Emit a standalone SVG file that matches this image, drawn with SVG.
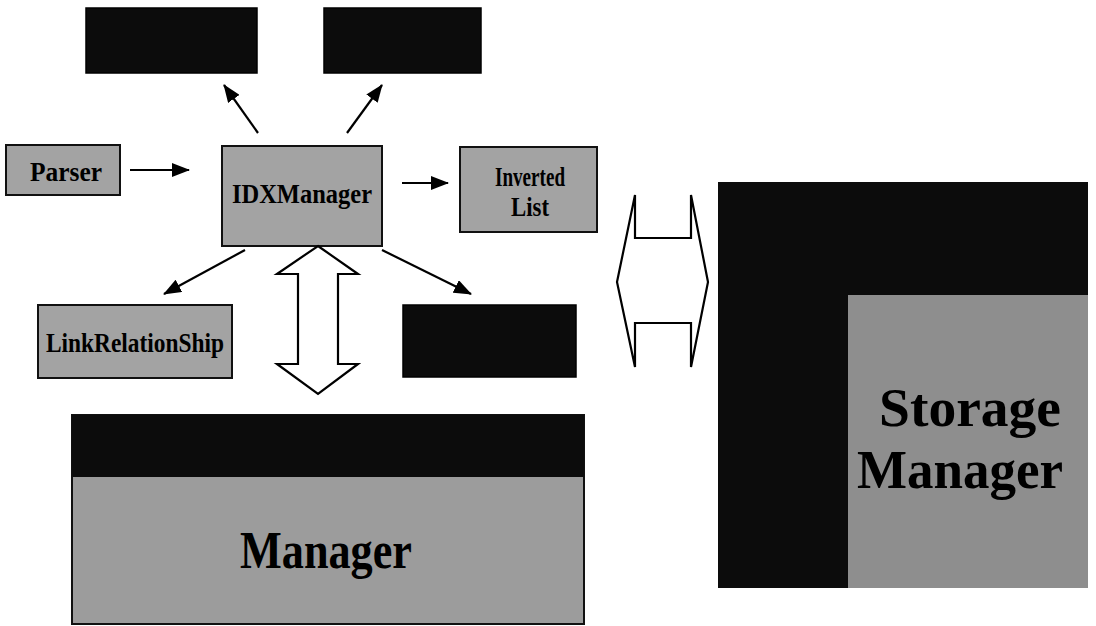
<svg xmlns="http://www.w3.org/2000/svg" width="1096" height="626" viewBox="0 0 1096 626">
<style>
.light{fill:#a3a3a3;stroke:#111;stroke-width:2}
.dark{fill:#0c0c0c;stroke:#000;stroke-width:1.5}
.lbl{font-family:"Liberation Serif",serif;font-weight:bold;fill:#000;text-anchor:middle}
.conn{stroke:#000;stroke-width:2.2;fill:none}
.hollow{fill:#fff;stroke:#000;stroke-width:2.2;stroke-linejoin:miter}
</style>
<defs>
<marker id="ah" markerWidth="18" markerHeight="14" refX="17" refY="7" orient="auto" markerUnits="userSpaceOnUse">
<path d="M0,0 L18,7 L0,14 Z" fill="#000"/>
</marker>
</defs>
<rect width="1096" height="626" fill="#fff"/>

<g id="top-left"><rect class="dark" x="86" y="8" width="171" height="65"/></g>
<g id="top-right"><rect class="dark" x="324" y="8" width="157" height="65"/></g>

<g id="parser"><rect class="light" x="6" y="145" width="114" height="50"/>
<text class="lbl" x="66" y="181" font-size="28" textLength="72" lengthAdjust="spacingAndGlyphs">Parser</text></g>

<g id="idxmanager"><rect class="light" x="222" y="146" width="160" height="100"/>
<text class="lbl" x="302" y="203" font-size="28" textLength="140" lengthAdjust="spacingAndGlyphs">IDXManager</text></g>

<g id="inverted-list"><rect class="light" x="460" y="147" width="137" height="85"/>
<text class="lbl" x="530" y="186" font-size="27" textLength="70" lengthAdjust="spacingAndGlyphs">Inverted</text>
<text class="lbl" x="530" y="216" font-size="27" textLength="38" lengthAdjust="spacingAndGlyphs">List</text></g>

<g id="linkrelationship"><rect class="light" x="38" y="305" width="194" height="73"/>
<text class="lbl" x="135" y="352" font-size="27" textLength="178" lengthAdjust="spacingAndGlyphs">LinkRelationShip</text></g>

<g id="dark-right"><rect class="dark" x="403" y="305" width="173" height="72"/></g>

<g id="bottom-manager">
<rect x="72" y="415" width="512" height="209" fill="#9c9c9c" stroke="#111" stroke-width="2"/>
<rect x="72" y="415" width="512" height="62" fill="#0c0c0c"/>
<text class="lbl" x="326" y="568" font-size="52" textLength="172" lengthAdjust="spacingAndGlyphs">Manager</text>
</g>

<g id="storage-manager">
<rect x="718" y="182" width="370" height="406" fill="#0c0c0c"/>
<rect x="848" y="295" width="240" height="293" fill="#8e8e8e"/>
<text class="lbl" x="970" y="426" font-size="54" textLength="182" lengthAdjust="spacingAndGlyphs">Storage</text>
<text class="lbl" x="960" y="488" font-size="54" textLength="206" lengthAdjust="spacingAndGlyphs">Manager</text>
</g>

<g id="connectors">
<line class="conn" x1="258" y1="133" x2="224" y2="85" marker-end="url(#ah)"/>
<line class="conn" x1="347" y1="133" x2="382" y2="85" marker-end="url(#ah)"/>
<line class="conn" x1="130" y1="170" x2="189" y2="170" marker-end="url(#ah)"/>
<line class="conn" x1="402" y1="183" x2="448" y2="183" marker-end="url(#ah)"/>
<line class="conn" x1="245" y1="250" x2="164" y2="294" marker-end="url(#ah)"/>
<line class="conn" x1="382" y1="250" x2="471" y2="294" marker-end="url(#ah)"/>
<polygon class="hollow" points="318,246 358,274 338,274 338,364 358,364 318,394 277,364 298,364 298,274 277,274"/>
<polygon class="hollow" points="617,282 635,195 635,238 691,238 691,195 708,282 691,367 691,323 635,323 635,367"/>
</g>
</svg>
